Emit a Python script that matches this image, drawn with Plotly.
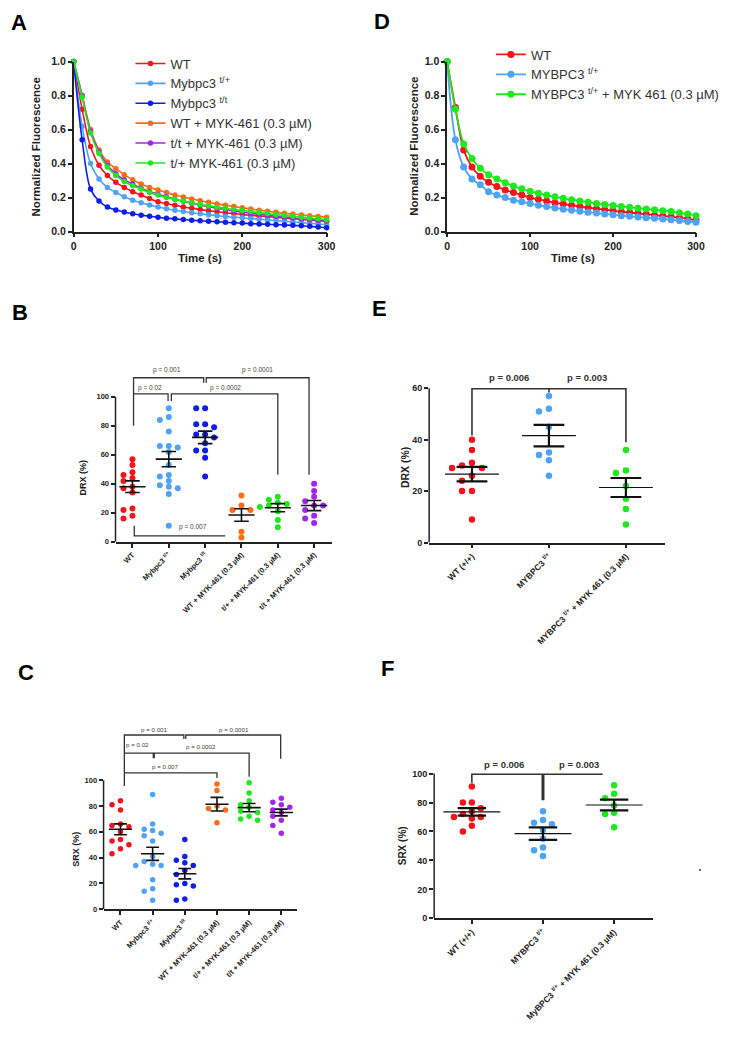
import plotly.graph_objects as go

W, H = 740, 1050
# the photographed page comes out slightly shrunk and shifted; positions below are
# measured on the reference and mapped back through this correction
S, DY = 0.988, 5.5
FONT = "Liberation Sans"
INK = "#222222"

RED = "#f2151b"
LBLUE = "#4fa3f5"
DBLUE = "#0d1ee8"
ORANGE = "#ff6b16"
PURPLE = "#a424ee"
GREEN = "#1ee81e"

# ---------------- data: fluorescence decay (sampled every 10 s) ----------------
time_s = list(range(0, 301, 10))

a_wt = [1.0, 0.72, 0.50, 0.39, 0.33, 0.29, 0.26, 0.235, 0.215, 0.195, 0.175, 0.165, 0.155,
        0.145, 0.137, 0.13, 0.123, 0.117, 0.111, 0.106, 0.10, 0.096, 0.092, 0.088, 0.084,
        0.08, 0.076, 0.072, 0.068, 0.064, 0.06]
a_tp = [1.0, 0.62, 0.40, 0.31, 0.26, 0.23, 0.205, 0.185, 0.17, 0.157, 0.145, 0.135, 0.126,
        0.118, 0.111, 0.105, 0.099, 0.094, 0.089, 0.085, 0.081, 0.077, 0.073, 0.069, 0.065,
        0.061, 0.057, 0.053, 0.049, 0.045, 0.042]
a_tt = [1.0, 0.54, 0.25, 0.18, 0.145, 0.127, 0.115, 0.105, 0.097, 0.09, 0.084, 0.079, 0.075,
        0.071, 0.067, 0.064, 0.061, 0.058, 0.055, 0.052, 0.05, 0.047, 0.045, 0.043, 0.041,
        0.039, 0.037, 0.034, 0.031, 0.027, 0.023]
a_wt_myk = [1.0, 0.80, 0.60, 0.48, 0.41, 0.37, 0.335, 0.305, 0.28, 0.26, 0.245, 0.23, 0.215,
            0.203, 0.192, 0.182, 0.172, 0.163, 0.155, 0.147, 0.14, 0.133, 0.126, 0.12, 0.114,
            0.108, 0.103, 0.098, 0.093, 0.089, 0.085]
a_tt_myk = [1.0, 0.80, 0.59, 0.47, 0.39, 0.34, 0.305, 0.28, 0.255, 0.235, 0.22, 0.205, 0.19,
            0.178, 0.167, 0.157, 0.147, 0.138, 0.13, 0.122, 0.115, 0.108, 0.102, 0.096, 0.09,
            0.085, 0.08, 0.075, 0.07, 0.066, 0.062]
a_tp_myk = [1.0, 0.79, 0.58, 0.46, 0.38, 0.33, 0.295, 0.27, 0.25, 0.23, 0.215, 0.2, 0.19,
            0.18, 0.17, 0.16, 0.152, 0.144, 0.137, 0.13, 0.124, 0.118, 0.112, 0.106, 0.1,
            0.095, 0.09, 0.085, 0.08, 0.075, 0.07]

d_wt = [1.0, 0.73, 0.48, 0.38, 0.325, 0.29, 0.265, 0.245, 0.23, 0.215, 0.2, 0.19, 0.18, 0.17,
        0.162, 0.155, 0.148, 0.141, 0.135, 0.129, 0.123, 0.117, 0.112, 0.107, 0.102, 0.097,
        0.092, 0.087, 0.082, 0.075, 0.068]
d_tp = [1.0, 0.54, 0.38, 0.31, 0.275, 0.235, 0.215, 0.2, 0.185, 0.175, 0.165, 0.155, 0.147,
        0.139, 0.132, 0.126, 0.12, 0.114, 0.109, 0.104, 0.099, 0.094, 0.09, 0.086, 0.082,
        0.078, 0.074, 0.07, 0.065, 0.06, 0.055]
d_tp_myk = [1.0, 0.72, 0.515, 0.43, 0.372, 0.335, 0.31, 0.288, 0.268, 0.252, 0.238, 0.226,
            0.215, 0.205, 0.196, 0.188, 0.18, 0.173, 0.166, 0.16, 0.154, 0.148, 0.143, 0.138,
            0.133, 0.128, 0.123, 0.118, 0.111, 0.103, 0.094]

a_names = ["WT", "Mybpc3 <sup>t/+</sup>", "Mybpc3 <sup>t/t</sup>", "WT + MYK-461 (0.3 µM)",
           "t/t + MYK-461 (0.3 µM)", "t/+ MYK-461 (0.3 µM)"]
d_names = ["WT", "MYBPC3 <sup>t/+</sup>", "MYBPC3 <sup>t/+</sup> + MYK 461 (0.3 µM)"]

# ---------------- data: DRX / SRX scatter panels ----------------
bc_labels = ["WT", "Mybpc3 <sup>t/+</sup>", "Mybpc3 <sup>t/t</sup>", "WT + MYK-461 (0.3 µM)",
             "t/+ + MYK-461 (0.3 µM)", "t/t + MYK-461 (0.3 µM)"]
bc_colors = [RED, LBLUE, DBLUE, ORANGE, GREEN, PURPLE]

b_wt = [57, 53, 48, 46, 44, 42, 38, 37, 34, 23, 22, 18, 16]
b_tp = [92, 86, 84, 76, 66, 66, 65, 62, 53, 46, 45, 42, 39, 38, 37, 33, 11]
b_tt = [92, 92, 81, 81, 79, 74, 74, 72, 68, 63, 63, 58, 45]
b_wt_myk = [32, 25, 22, 22, 7, 3]
b_tp_myk = [31, 29, 27, 26, 25, 24, 21, 15, 10]
b_tt_myk = [40, 35, 31, 28, 25, 25, 22, 18, 16, 13]
b_means = [38, 57, 72, 18.5, 23.5, 25]
b_sems = [4, 5.3, 4.3, 4.3, 2.8, 3.5]

c_wt = [84, 81, 77, 66, 65, 64, 62, 60, 54, 53, 50, 47, 43]
c_tp = [89, 66, 62, 61, 59, 57, 53, 41, 37, 35, 34, 34, 23, 16, 14, 7]
c_tt = [54, 41, 38, 36, 34, 30, 27, 20, 19, 18, 8, 7]
c_wt_myk = [97, 92, 80, 78, 77, 67]
c_tp_myk = [98, 90, 84, 81, 79, 76, 75, 72, 70, 69]
c_tt_myk = [86, 83, 81, 79, 77, 75, 72, 69, 65, 59]
c_means = [62, 43, 27.6, 81.4, 78.8, 75]
c_sems = [4.2, 5.1, 4, 5.3, 3.2, 2.6]

ef_colors = [RED, LBLUE, GREEN]
e_labels = ["WT (+/+)", "MYBPC3 <sup>t/+</sup>", "MYBPC3 <sup>t/+</sup> + MYK 461 (0.3 µM)"]
e_wt = [40, 36, 31, 30, 29, 29, 26, 24, 20, 20, 9]
e_tp = [57, 52, 51, 45, 35, 34, 32, 26]
e_tp_myk = [36, 28, 27, 22, 17, 13, 7]
e_means = [26.6, 41.6, 21.4]
e_sems = [2.8, 4.2, 3.7]

f_labels = ["WT (+/+)", "MYBPC3 <sup>t/+</sup>", "MyBPC3 <sup>t/+</sup> + MYK 461 (0.3 µM)"]
f_wt = [91, 80, 80, 76, 74, 72, 70, 70, 69, 64, 60]
f_tp = [74, 68, 66, 65, 61, 55, 49, 47, 43]
f_tp_myk = [92, 86, 83, 78, 73, 72, 63]
f_means = [73.5, 58.5, 78.3]
f_sems = [2.6, 4.3, 3.7]


def px(x):
    return (x / S) / W


def py(y):
    return 1 - ((y - DY) / S) / H


def dom_x(p0, p1):
    return [px(p0), px(p1)]


def dom_y(top, bot):
    return [py(bot), py(top)]


def swarm(values, center, px_unit, px_cat, diam, step_px):
    # simple column beeswarm, like Prism's scatter dot plots
    placed, xs = [], []
    for v in values:
        for k in [0, -1, 1, -2, 2, -3, 3]:
            if all(not (pk == k and abs(pv - v) * px_unit < diam) for pk, pv in placed):
                break
        placed.append((k, v))
        xs.append(center + k * step_px / px_cat)
    return xs


fig = go.Figure()

# ---------- A and D: decay curves ----------
for ys, col, name in zip([a_wt, a_tp, a_tt, a_wt_myk, a_tt_myk, a_tp_myk],
                         [RED, LBLUE, DBLUE, ORANGE, PURPLE, GREEN], a_names):
    fig.add_trace(go.Scatter(x=time_s, y=ys, mode="lines+markers", name=name,
                             line=dict(color=col, width=1.6, shape="spline"),
                             marker=dict(color=col, size=5.5), cliponaxis=False,
                             xaxis="x", yaxis="y", legend="legend"))
for ys, col, name in zip([d_wt, d_tp, d_tp_myk], [RED, LBLUE, GREEN], d_names):
    fig.add_trace(go.Scatter(x=time_s, y=ys, mode="lines+markers", name=name,
                             line=dict(color=col, width=1.8, shape="spline"),
                             marker=dict(color=col, size=7), cliponaxis=False,
                             xaxis="x4", yaxis="y4", legend="legend2"))


def dot_panel(groups, colors, means, sems, ax, px_unit, px_cat, diam, step_px, msize,
              half_mean, half_cap, mean_w, bar_w):
    xa, ya = ("x" + ax, "y" + ax)
    for i, (vals, col) in enumerate(zip(groups, colors)):
        xs = swarm(vals, i, px_unit, px_cat, diam, step_px)
        fig.add_trace(go.Scatter(x=xs, y=vals, mode="markers", showlegend=False,
                                 marker=dict(color=col, size=msize), cliponaxis=False,
                                 xaxis=xa, yaxis=ya))
    mx, my, bx, by = [], [], [], []
    for i, (m, s) in enumerate(zip(means, sems)):
        mx += [i - half_mean, i + half_mean, None]
        my += [m, m, None]
        bx += [i, i, None, i - half_cap, i + half_cap, None, i - half_cap, i + half_cap, None]
        by += [m - s, m + s, None, m + s, m + s, None, m - s, m - s, None]
    fig.add_trace(go.Scatter(x=mx, y=my, mode="lines", showlegend=False,
                             line=dict(color="#111", width=mean_w), xaxis=xa, yaxis=ya))
    fig.add_trace(go.Scatter(x=bx, y=by, mode="lines", showlegend=False,
                             line=dict(color="#111", width=bar_w), xaxis=xa, yaxis=ya))


dot_panel([b_wt, b_tp, b_tt, b_wt_myk, b_tp_myk, b_tt_myk], bc_colors, b_means, b_sems,
          "2", 1.45, 36.5, 5.5, 9, 6, 0.36, 0.2, 1.6, 1.6)
dot_panel([c_wt, c_tp, c_tt, c_wt_myk, c_tp_myk, c_tt_myk], bc_colors, c_means, c_sems,
          "3", 1.29, 32.3, 5.5, 8.5, 5.5, 0.36, 0.2, 1.6, 1.6)
dot_panel([e_wt, e_tp, e_tp_myk], ef_colors, e_means, e_sems,
          "5", 2.567, 77.3, 6, 10, 6.5, 0.35, 0.2, 1.2, 2.2)
dot_panel([f_wt, f_tp, f_tp_myk], ef_colors, f_means, f_sems,
          "6", 1.447, 71.5, 6, 9, 6.5, 0.4, 0.2, 1.2, 2.2)


# ---------- significance brackets ----------
def bracket(paths, ax, width, color="#333"):
    xs, ys = [], []
    for p in paths:
        xs += [q[0] for q in p] + [None]
        ys += [q[1] for q in p] + [None]
    fig.add_trace(go.Scatter(x=xs, y=ys, mode="lines", showlegend=False,
                             line=dict(color=color, width=width),
                             xaxis="x" + ax, yaxis="y" + ax))


bracket([[(0.03, 80), (0.03, 113.1), (1.96, 113.1), (1.96, 109.7)],
         [(2.03, 109.7), (2.03, 113.1), (4.86, 113.1), (4.86, 46.2)],
         [(0.03, 102), (0.98, 102), (0.98, 97)],
         [(1.07, 97), (1.07, 102), (4.0, 102), (4.0, 46.2)],
         [(0.05, 11), (0.05, 4.1), (2.55, 4.1)]], "2", 1.3)
bracket([[(0.12, 95.6), (0.12, 135), (1.97, 135), (1.97, 132)],
         [(2.03, 132), (2.03, 135), (4.98, 135), (4.98, 116.6)],
         [(0.12, 121), (1.02, 121), (1.02, 117)],
         [(1.05, 117), (1.05, 121), (4.0, 121), (4.0, 102.6)],
         [(0.12, 105.7), (3.0, 105.7), (3.0, 101.8)]], "3", 1.3)
bracket([[(0, 41.6), (0, 59.8), (2, 59.8), (2, 39)],
         [(1, 59.8), (1, 58.4)]], "5", 1.6)
bracket([[(0, 93.7), (0, 99.5), (1.84, 99.5)]], "6", 1.6)
bracket([[(1, 99.5), (1, 81.5)]], "6", 3)

annotations = []


def ptext(txt, x, y, ax, size, bold=False, color="#444"):
    annotations.append(dict(text=txt, x=x, y=y, xref="x" + ax, yref="y" + ax, showarrow=False,
                            xanchor="center", yanchor="middle",
                            font=dict(family=FONT, size=size, color=color,
                                      weight="bold" if bold else "normal")))


for t, x, y in [("p = 0.001", 0.96, 118.6), ("p = 0.0001", 3.45, 118.6),
                ("p = 0.02", 0.47, 106.3), ("p = 0.0002", 2.55, 106.3),
                ("p = 0.007", 1.67, 10.3)]:
    ptext(t, x, y, "2", 6.5)
for t, x, y in [("p = 0.001", 1.05, 139), ("p = 0.0001", 3.53, 139),
                ("p = 0.02", 0.53, 127.4), ("p = 0.0002", 2.5, 125.8),
                ("p = 0.007", 1.39, 111)]:
    ptext(t, x, y, "3", 6.2)
ptext("p = 0.006", 0.48, 64, "5", 9.5, True, "#333")
ptext("p = 0.003", 1.5, 64, "5", 9.5, True, "#333")
ptext("p = 0.006", 0.45, 106.4, "6", 9.5, True, "#333")
ptext("p = 0.003", 1.51, 106.4, "6", 9.5, True, "#333")


# ---------- axes ----------
def ax_style(size, **kw):
    d = dict(showgrid=False, zeroline=False, showline=True, linecolor=INK, linewidth=1.5,
             ticks="outside", ticklen=4, tickwidth=1.5, tickcolor=INK,
             tickfont=dict(family=FONT, size=size, color=INK, weight="bold"))
    d.update(kw)
    return d


layout_axes = dict(
    xaxis=ax_style(10.5, domain=dom_x(71, 325), range=[0, 300], tickvals=[0, 100, 200, 300],
                   anchor="y"),
    yaxis=ax_style(10.5, domain=dom_y(61, 231), range=[0, 1], tickvals=[0, 0.2, 0.4, 0.6, 0.8, 1.0],
                   tickformat=".1f", anchor="x"),
    xaxis4=ax_style(10.5, domain=dom_x(446, 696), range=[0, 300], tickvals=[0, 100, 200, 300],
                    anchor="y4"),
    yaxis4=ax_style(10.5, domain=dom_y(61, 231), range=[0, 1], tickvals=[0, 0.2, 0.4, 0.6, 0.8, 1.0],
                    tickformat=".1f", anchor="x4"),
    xaxis2=ax_style(7.5, domain=dom_x(113, 330), range=[-0.466, 5.48], tickvals=list(range(6)),
                    ticktext=bc_labels, tickangle=-45, anchor="y2"),
    yaxis2=ax_style(7.5, domain=dom_y(364, 541), range=[0, 122.1], tickvals=[0, 20, 40, 60, 80, 100],
                    showline=False, anchor="x2"),
    xaxis3=ax_style(7.5, domain=dom_x(101, 295), range=[-0.526, 5.48], tickvals=list(range(6)),
                    ticktext=bc_labels, tickangle=-45, anchor="y3"),
    yaxis3=ax_style(7.5, domain=dom_y(723, 908.3), range=[0, 143.6], tickvals=[0, 20, 40, 60, 80, 100],
                    showline=False, anchor="x3"),
    xaxis5=ax_style(8.5, domain=dom_x(428, 665), range=[-0.556, 2.51], tickvals=[0, 1, 2],
                    ticktext=e_labels, tickangle=-45, anchor="y5"),
    yaxis5=ax_style(9, domain=dom_y(367, 541.7), range=[0, 68], tickvals=[0, 20, 40, 60],
                    showline=False, anchor="x5"),
    xaxis6=ax_style(8.5, domain=dom_x(433, 653), range=[-0.53, 2.55], tickvals=[0, 1, 2],
                    ticktext=f_labels, tickangle=-45, anchor="y6"),
    yaxis6=ax_style(9, domain=dom_y(755, 917.3), range=[0, 112.2], tickvals=[0, 20, 40, 60, 80, 100],
                    showline=False, anchor="x6"),
)

# y-axis lines that stop at the top tick (brackets sit above)
shapes = []
for ax, top in [("2", 100), ("3", 100), ("5", 60), ("6", 100)]:
    shapes.append(dict(type="line", xref="x" + ax + " domain", yref="y" + ax, x0=0, x1=0,
                       y0=0, y1=top, line=dict(color=INK, width=1.5)))
shapes.append(dict(type="circle", xref="paper", yref="paper", x0=px(699), x1=px(701),
                   y0=py(870), y1=py(868), fillcolor="#333", line=dict(width=0)))


def ptitle(txt, x, y, size, angle=0):
    annotations.append(dict(text=txt, x=px(x), y=py(y), xref="paper", yref="paper",
                            showarrow=False, textangle=angle, xanchor="center", yanchor="middle",
                            font=dict(family=FONT, size=size, color=INK, weight="bold")))


ptitle("Normalized Fluorescence", 33, 146, 11.5, -90)
ptitle("Time (s)", 198, 257, 11.5)
ptitle("Normalized Fluorescence", 412, 146, 11.5, -90)
ptitle("Time (s)", 572, 257, 11.5)
ptitle("DRX (%)", 80, 477, 9, -90)
ptitle("SRX (%)", 73, 848, 9, -90)
ptitle("DRX (%)", 403, 467, 10.5, -90)
ptitle("SRX (%)", 402, 845, 10, -90)

for letter, x, y in [("A", 16, 22), ("D", 381, 21), ("B", 17, 312), ("E", 378, 308),
                     ("C", 23, 672), ("F", 386, 668)]:
    annotations.append(dict(text=letter, x=px(x), y=py(y), xref="paper", yref="paper",
                            showarrow=False, xanchor="center", yanchor="middle",
                            font=dict(family=FONT, size=22, color="#000", weight="bold")))

fig.update_layout(
    width=W, height=H, margin=dict(l=0, r=0, t=0, b=0),
    paper_bgcolor="white", plot_bgcolor="white",
    font=dict(family=FONT, color=INK),
    legend=dict(x=px(128), y=py(48), xanchor="left", yanchor="top",
                bgcolor="rgba(0,0,0,0)", tracegroupgap=0,
                font=dict(family=FONT, size=13, color="#333")),
    legend2=dict(x=px(490), y=py(39), xanchor="left", yanchor="top",
                 bgcolor="rgba(0,0,0,0)", tracegroupgap=0,
                 font=dict(family=FONT, size=13, color="#333")),
    annotations=annotations, shapes=shapes,
    **layout_axes,
)

# drop the default body margin so figure pixels line up with the window
fig.write_html("out.html", config={"displayModeBar": False},
               post_script="document.body.style.margin = '0px';")
